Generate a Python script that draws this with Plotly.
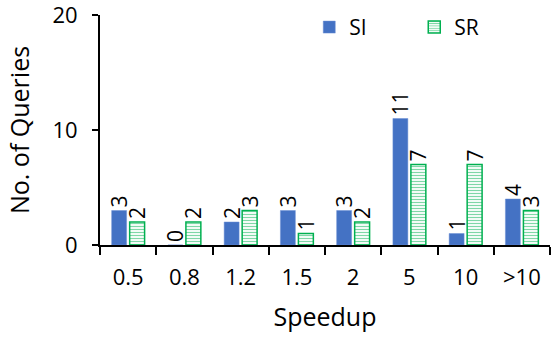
import plotly.graph_objects as go

categories = ["0.5", "0.8", "1.2", "1.5", "2", "5", "10", ">10"]
si_values = [3, 0, 2, 3, 3, 11, 1, 4]
sr_values = [2, 2, 3, 1, 2, 7, 7, 3]

FONT = "Open Sans, sans-serif"

fig = go.Figure()
fig.add_trace(go.Bar(
    x=categories, y=si_values, name="SI",
    marker=dict(color="#4472C4", line=dict(color="#6a8fd4", width=0.5)),
    text=[str(v) for v in si_values], textposition="outside", textangle=-90,
    constraintext="none",
    textfont=dict(size=21, color="black", family=FONT), cliponaxis=False,
))
fig.add_trace(go.Bar(
    x=categories, y=sr_values, name="SR",
    marker=dict(color="white", line=dict(color="#00B050", width=1.5),
                pattern=dict(shape="-", fgcolor="#00B050", bgcolor="white", size=3, solidity=0.4)),
    text=[str(v) for v in sr_values], textposition="outside", textangle=-90,
    constraintext="none",
    textfont=dict(size=21, color="black", family=FONT), cliponaxis=False,
))

fig.update_layout(
    width=553, height=337,
    margin=dict(l=100, r=3, t=15, b=92, autoexpand=False),
    paper_bgcolor="white", plot_bgcolor="white",
    font=dict(family=FONT, size=20, color="black"),
    barmode="group", bargap=0.36, bargroupgap=0.17,
    showlegend=True,
    legend=dict(orientation="h", x=0.465, y=1.035, xanchor="left", yanchor="top",
                font=dict(size=21), bgcolor="rgba(0,0,0,0)",
                entrywidthmode="pixels", entrywidth=60),
    xaxis=dict(
        showline=True, linecolor="black", linewidth=2,
        ticks="outside", tickson="boundaries", ticklen=8, tickwidth=2, tickcolor="black",
        ticklabelstandoff=12,
        tickfont=dict(size=22), title=dict(text="Speedup", font=dict(size=25), standoff=18),
        automargin=False,
    ),
    yaxis=dict(
        range=[0, 20], tickmode="linear", tick0=0, dtick=10,
        ticklabeloverflow="allow", ticklabelstandoff=10,
        showline=True, linecolor="black", linewidth=2,
        ticks="outside", ticklen=6, tickwidth=2, tickcolor="black",
        showgrid=False, zeroline=False, automargin=False,
        tickfont=dict(size=22), title=dict(text="No. of Queries", font=dict(size=25), standoff=16),
    ),
)

fig.write_html("out.html")
